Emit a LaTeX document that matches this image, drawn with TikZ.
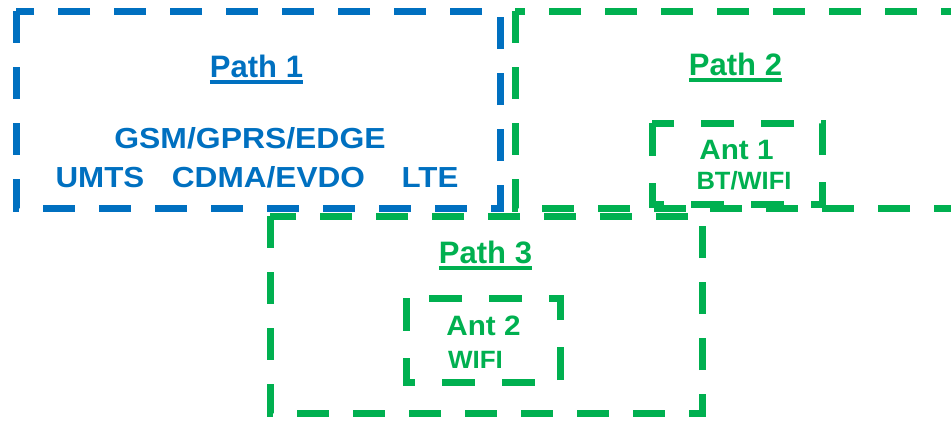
\documentclass[tikz,border=0pt]{standalone}
\usepackage{fontspec}
\setsansfont{Liberation Sans}
\usepackage{graphicx}
\usepackage{tikz}
\usetikzlibrary{positioning}

\newcommand{\hstretch}[2]{\scalebox{#1}[1]{#2}}

\tikzset{
  pathbox/.style={line width=7pt, dash pattern=on 32pt off 24pt},
  antbox/.style={line width=7pt, dash pattern=on 33pt off 27pt},
  tag/.style={inner sep=0pt, anchor=base, font=\sffamily\bfseries\fontsize{#1}{#1}\selectfont},
}

\begin{document}
\begin{tikzpicture}[x=1pt, y=-1pt]
      \colorlet{bandblue}{rgb,255:red,0;green,112;blue,192} \colorlet{bandgreen}{rgb,255:red,0;green,176;blue,80}
      \useasboundingbox (0,0) rectangle (951,421);
      \clip (0,0) rectangle (951,421);
      % path boxes
      \draw[pathbox, draw=bandblue] (16,11) rectangle (500,208);
      \draw[pathbox, draw=bandgreen] (515,11) rectangle (995,208);
      \draw[pathbox, draw=bandgreen] (270,216) rectangle (702,413);
      % antenna boxes
      \draw[antbox, draw=bandgreen] (652,123) rectangle (822,204);
      \draw[antbox, draw=bandgreen] (406,298) rectangle (560,382);
      % path 1
      \node[tag=31, text=bandblue] (p1) at (256.5,77) {Path 1};
      \draw[bandblue, line width=3.5pt] ([yshift=-5pt]p1.base west) -- ([yshift=-5pt]p1.base east);
      \node[tag=29, text=bandblue] (gsm) at (250,148) {\hstretch{1.1}{GSM/GPRS/EDGE}};
      \node[tag=29, text=bandblue] (umts) at (100,187) {\hstretch{1.08}{UMTS}};
      \node[tag=29, text=bandblue] (cdma) at (268.5,187) {\hstretch{1.09}{CDMA/EVDO}};
      \node[tag=29, text=bandblue] (lte) at (430,187) {\hstretch{1.08}{LTE}};
      % path 2
      \node[tag=31, text=bandgreen] (p2) at (735.5,75) {Path 2};
      \draw[bandgreen, line width=3.5pt] ([yshift=-5pt]p2.base west) -- ([yshift=-5pt]p2.base east);
      \node[tag=28, text=bandgreen] (ant1) at (736.5,159) {\hstretch{1.06}{Ant 1}};
      \node[tag=25, text=bandgreen] (bt) at (744,189) {\hstretch{1.02}{BT/WIFI}};
      % path 3
      \node[tag=31, text=bandgreen] (p3) at (485.5,263) {Path 3};
      \draw[bandgreen, line width=3.5pt] ([yshift=-5pt]p3.base west) -- ([yshift=-5pt]p3.base east);
      \node[tag=28, text=bandgreen] (ant2) at (483.5,335) {\hstretch{1.06}{Ant 2}};
      \node[tag=25, text=bandgreen] (wifi) at (475.5,368) {\hstretch{1.04}{WIFI}};
    \end{tikzpicture}
\end{document}
